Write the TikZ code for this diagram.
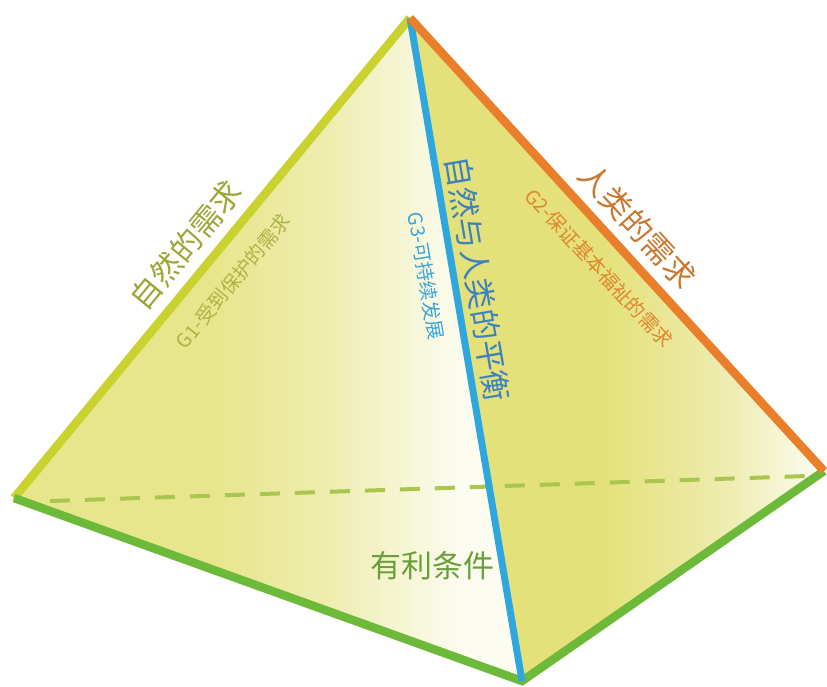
\documentclass[tikz,border=0pt]{standalone}
\usepackage{fontspec}
\newfontfamily\cjk{Noto Sans CJK SC}
\definecolor{edgeY}{HTML}{C9D22E}
\definecolor{edgeO}{HTML}{E97E2B}
\definecolor{edgeB}{HTML}{2EA7DF}
\definecolor{edgeG}{HTML}{6DBA3A}
\definecolor{dashG}{HTML}{A9C64E}
\definecolor{faceL}{HTML}{E8E68C}
\definecolor{faceLm}{HTML}{EEEDB0}
\definecolor{faceR}{HTML}{E4E17A}
\definecolor{faceRm}{HTML}{ECEAA6}
\definecolor{paleW}{HTML}{FCFCF0}
\definecolor{txtY}{HTML}{9EA63A}
\definecolor{txtYs}{HTML}{ADB346}
\definecolor{txtB}{HTML}{3D82BC}
\definecolor{txtBs}{HTML}{3AA6DC}
\definecolor{txtO}{HTML}{C9782F}
\definecolor{txtOs}{HTML}{E0862F}
\definecolor{txtG}{HTML}{6A9F3C}
\pgfdeclarehorizontalshading{leftface}{100bp}{color(0bp)=(faceL); color(25bp)=(faceL); color(45bp)=(faceL); color(56bp)=(faceLm); color(69bp)=(paleW); color(75bp)=(paleW); color(100bp)=(paleW)}
\pgfdeclarehorizontalshading{rightface}{100bp}{color(0bp)=(faceR); color(25bp)=(faceR); color(48bp)=(faceR); color(61bp)=(faceRm); color(75bp)=(paleW); color(100bp)=(paleW)}
\tikzset{
  bigtxt/.style={font=\cjk\fontsize{31}{31}\selectfont, inner sep=0pt},
  smalltxt/.style={font=\cjk\fontsize{19.5}{19.5}\selectfont, inner sep=0pt},
  edge/.style={line width=8.5pt, line cap=butt},
}
\begin{document}
\begin{tikzpicture}[x=1pt,y=-1pt]
\useasboundingbox (0,0) rectangle (827,686);
\coordinate (A) at (410,18);
\coordinate (L) at (14,498);
\coordinate (R) at (824,471);
\coordinate (B) at (522,681);
\coordinate (D1) at (50,501);
\coordinate (D2) at (808,476);
% faces
\begin{scope}
\clip (A)--(L)--(B)--cycle;
\shade[shading=leftface] (14,18) rectangle (522,681);
\end{scope}
\begin{scope}
\clip (A)--(B)--(R)--cycle;
\shade[shading=rightface] (410,18) rectangle (824,681);
\end{scope}
% hidden edge
\draw[dashG, line width=4pt, dash pattern=on 20pt off 15pt] (D1) -- (D2);
% edges
\draw[edge, edgeY] (L) -- (A);
\draw[edge, edgeG] (L) -- (B) -- (R);
\draw[edge, edgeB, line width=7pt] (A) -- (B);
\draw[edge, edgeO] (A) -- (R);
% labels
\node[bigtxt, txtY, rotate=50.6] (n1) at (186,245) {自然的需求};
\node[smalltxt, txtYs, rotate=50.6] (g1) at (233,281) {G1-受到保护的需求};
\node[bigtxt, txtB, rotate=-80.4] (n3) at (478,279) {自然与人类的平衡};
\node[smalltxt, txtBs, rotate=-80.4] (g3) at (426,276) {G3-可持续发展};
\node[bigtxt, txtO, rotate=-47.4] (n2) at (638,226) {人类的需求};
\node[smalltxt, txtOs, rotate=-47.4] (g2) at (599,268) {G2-保证基本福祉的需求};
\node[bigtxt, txtG] (n4) at (432,566) {有利条件};
\end{tikzpicture}
\end{document}
